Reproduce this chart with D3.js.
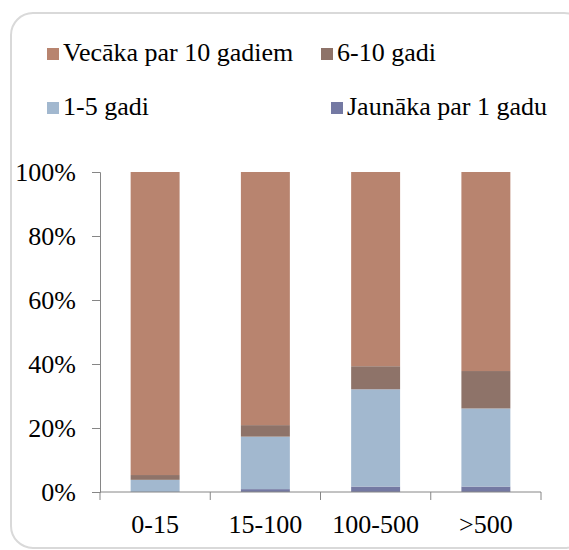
<!DOCTYPE html>
<html>
<head>
<meta charset="utf-8">
<script src="https://cdn.jsdelivr.net/npm/d3@7"></script>
<style>
  html, body { margin: 0; padding: 0; background: #fff; }
  svg { display: block; }
</style>
</head>
<body>
<svg id="chart"></svg>
<script>
const W = 569, H = 550;
const FONT = "Liberation Serif";

// data (share of each age group, %)
const categories = ["0-15", "15-100", "100-500", ">500"];
const seriesNames = ["Jaunāka par 1 gadu", "1-5 gadi", "6-10 gadi", "Vecāka par 10 gadiem"];
const under1  = [0.0, 0.9, 1.7, 1.7];
const y1to5   = [3.8, 16.4, 30.4, 24.4];
const y6to10  = [1.5, 3.6, 7.2, 11.7];
const over10  = [94.7, 79.1, 60.7, 62.2];
const yTicks = [0, 20, 40, 60, 80, 100];

const colors = {
  "Jaunāka par 1 gadu": "#7479a3",
  "1-5 gadi": "#a2b8cf",
  "6-10 gadi": "#8e7369",
  "Vecāka par 10 gadiem": "#b8846f"
};

const rows = categories.map((c, i) => ({
  cat: c,
  "Jaunāka par 1 gadu": under1[i],
  "1-5 gadi": y1to5[i],
  "6-10 gadi": y6to10[i],
  "Vecāka par 10 gadiem": over10[i]
}));

const svg = d3.select("#chart").attr("width", W).attr("height", H)
  .attr("font-family", FONT);

// outer frame
svg.append("rect")
  .attr("x", 11).attr("y", 13)
  .attr("width", 575).attr("height", 535)
  .attr("rx", 22)
  .attr("fill", "#fff")
  .attr("stroke", "#d9d9d9")
  .attr("stroke-width", 2);

const x = d3.scaleBand().domain(categories).range([100, 541])
  .paddingInner(0.556).paddingOuter(0.278);
const y = d3.scaleLinear().domain([0, 100]).range([492, 172]);

const stack = d3.stack().keys(seriesNames);
const layers = stack(rows);

svg.append("g").selectAll("g")
  .data(layers)
  .join("g")
    .attr("fill", d => colors[d.key])
  .selectAll("rect")
  .data(d => d)
  .join("rect")
    .attr("x", d => x(d.data.cat))
    .attr("width", x.bandwidth())
    .attr("y", d => y(d[1]))
    .attr("height", d => y(d[0]) - y(d[1]));

// y axis
const yAxis = d3.axisLeft(y).tickValues(yTicks).tickSize(8).tickPadding(16)
  .tickFormat(d => d + "%");
const gy = svg.append("g").attr("transform", "translate(100,0)").call(yAxis)
  .attr("font-family", FONT).attr("font-size", 26);
gy.select(".domain").attr("stroke", "#868686");
gy.selectAll(".tick line").attr("stroke", "#868686");
gy.selectAll(".tick text")
  .attr("font-family", FONT)
  .attr("font-size", 26)
  .attr("dy", "0.34em")
  .attr("fill", "#000");

// x axis: line with ticks between categories
const step = x.step();
const x0 = x.range()[0];
const gx = svg.append("g");
gx.append("line")
  .attr("x1", x0).attr("x2", x.range()[1])
  .attr("y1", y(0)).attr("y2", y(0))
  .attr("stroke", "#868686");
gx.selectAll(".xt")
  .data(d3.range(categories.length + 1))
  .join("line")
    .attr("class", "xt")
    .attr("x1", i => x0 + i * step).attr("x2", i => x0 + i * step)
    .attr("y1", y(0)).attr("y2", y(0) + 8)
    .attr("stroke", "#868686");
gx.selectAll(".xl")
  .data(categories)
  .join("text")
    .attr("class", "xl")
    .attr("x", d => x(d) + x.bandwidth() / 2)
    .attr("y", 533)
    .attr("text-anchor", "middle")
    .attr("font-family", FONT)
    .attr("font-size", 26)
    .text(d => d);

// legend
const legendItems = [
  { name: "Vecāka par 10 gadiem", x: 47, y: 61 },
  { name: "6-10 gadi", x: 321, y: 61 },
  { name: "1-5 gadi", x: 47, y: 115 },
  { name: "Jaunāka par 1 gadu", x: 331, y: 115 }
];
const lg = svg.append("g").selectAll("g")
  .data(legendItems)
  .join("g")
    .attr("transform", d => `translate(${d.x},${d.y})`);
lg.append("rect")
  .attr("x", 0).attr("y", -13)
  .attr("width", 12).attr("height", 12)
  .attr("fill", d => colors[d.name]);
lg.append("text")
  .attr("x", 16).attr("y", 0)
  .attr("font-family", FONT)
  .attr("font-size", 26)
  .text(d => d.name);
</script>
</body>
</html>
